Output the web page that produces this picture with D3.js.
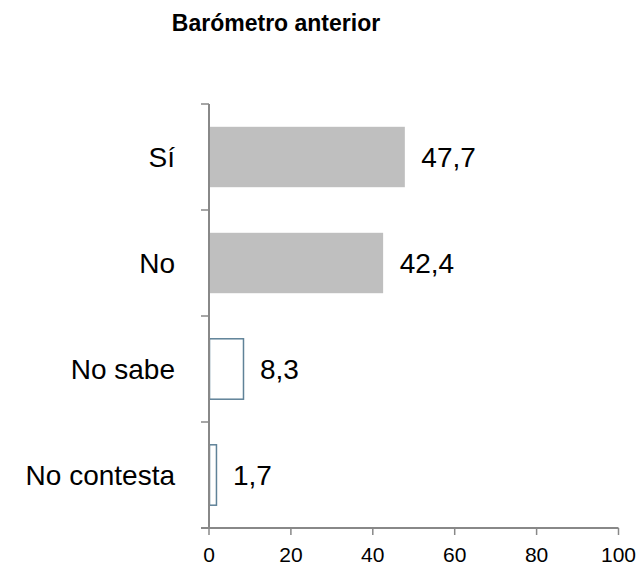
<!DOCTYPE html>
<html>
  <head>
    <script src="https://d3js.org/d3.v7.min.js"></script>
    <style>
      body { margin: 0; background-color: white; }
      text { font-family: Arial, 'Liberation Sans', sans-serif; }
    </style>
  </head>
  <body>
    <svg id="canvas" width="640" height="566"></svg>
    <script>
      const categories = ['Sí', 'No', 'No sabe', 'No contesta']
      const values = [47.7, 42.4, 8.3, 1.7]
      const labels = ['47,7', '42,4', '8,3', '1,7']
      const filled = [true, true, false, false]
      const xTicks = [0, 20, 40, 60, 80, 100]

      let svg = d3.select('#canvas')

      let x = d3.scaleLinear().domain([0, 100]).range([209, 618.5])
      let y = d3.scaleBand().domain(categories).range([104, 528]).paddingInner(0.43).paddingOuter(0.215)

      // title
      svg.append('text')
        .attr('x', 276).attr('y', 31)
        .attr('text-anchor', 'middle')
        .attr('font-size', 23).attr('font-weight', 'bold')
        .text('Barómetro anterior')

      // bars
      svg.selectAll('rect.bar').data(categories)
        .enter()
        .append('rect')
          .attr('class', 'bar')
          .attr('x', x(0) + 0.5)
          .attr('y', d => y(d))
          .attr('width', (d, i) => x(values[i]) - x(0))
          .attr('height', y.bandwidth())
          .attr('fill', (d, i) => filled[i] ? '#bfbfbf' : 'white')
          .attr('stroke', (d, i) => filled[i] ? 'none' : '#5f8298')
          .attr('stroke-width', 1.5)

      // value labels
      svg.selectAll('text.val').data(categories)
        .enter()
        .append('text')
          .attr('class', 'val')
          .attr('x', (d, i) => x(values[i]) + 17)
          .attr('y', d => y(d) + y.bandwidth() / 2)
          .attr('dy', '0.35em')
          .attr('font-size', 28)
          .text((d, i) => labels[i])

      // y axis
      let yBand = d3.scaleLinear().domain([0, 4]).range([104, 528])
      let axisColor = '#888888'
      svg.append('line')
        .attr('x1', x(0)).attr('x2', x(0))
        .attr('y1', 104).attr('y2', 528)
        .attr('stroke', axisColor).attr('stroke-width', 2)
      svg.selectAll('line.ytick').data(d3.range(5))
        .enter()
        .append('line')
          .attr('class', 'ytick')
          .attr('x1', x(0) - 8).attr('x2', x(0))
          .attr('y1', d => yBand(d)).attr('y2', d => yBand(d))
          .attr('stroke', axisColor).attr('stroke-width', 1.5)

      svg.selectAll('text.cat').data(categories)
        .enter()
        .append('text')
          .attr('class', 'cat')
          .attr('x', 175)
          .attr('y', d => y(d) + y.bandwidth() / 2)
          .attr('dy', '0.35em')
          .attr('text-anchor', 'end')
          .attr('font-size', 28)
          .text(d => d)

      // x axis
      svg.append('line')
        .attr('x1', x(0) - 8).attr('x2', x(100))
        .attr('y1', 528).attr('y2', 528)
        .attr('stroke', axisColor).attr('stroke-width', 2)
      svg.selectAll('line.xtick').data(xTicks)
        .enter()
        .append('line')
          .attr('class', 'xtick')
          .attr('x1', d => x(d)).attr('x2', d => x(d))
          .attr('y1', 528).attr('y2', 535)
          .attr('stroke', axisColor).attr('stroke-width', 1.5)
      svg.selectAll('text.xlab').data(xTicks)
        .enter()
        .append('text')
          .attr('class', 'xlab')
          .attr('x', d => x(d))
          .attr('y', 562)
          .attr('text-anchor', 'middle')
          .attr('font-size', 21)
          .text(d => d)
    </script>
  </body>
</html>
